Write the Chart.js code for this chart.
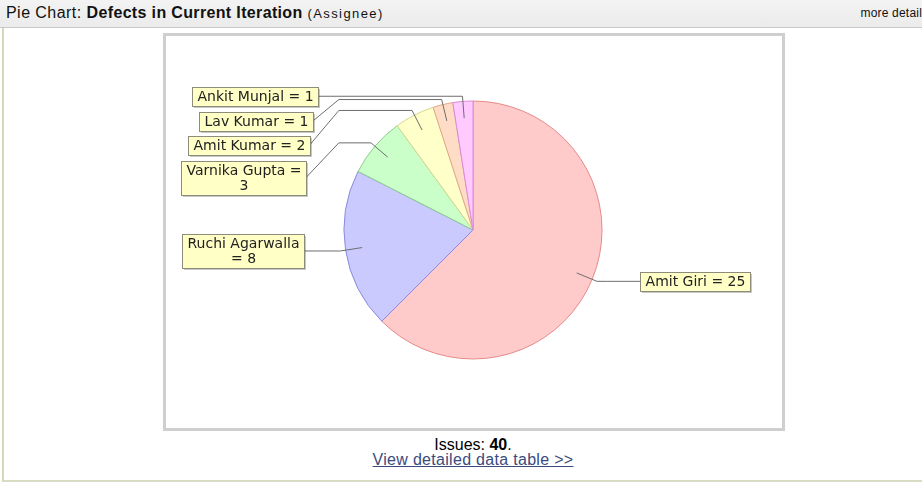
<!DOCTYPE html>
<html>
<head>
<meta charset="utf-8">
<script src="https://cdn.jsdelivr.net/npm/chart.js@4/dist/chart.umd.min.js"></script>
<style>
  body { margin: 0; background: #fff; font-family: "Liberation Sans", Arial, sans-serif; }
  #panel { position: absolute; left: 2px; top: 0; width: 940px; height: 480px;
           border-left: 2px solid #d3d9b9; border-bottom: 2px solid #d8dcc2; }
  #head { position: absolute; left: 0; top: 0; width: 922px; height: 27px; overflow: hidden;
          background: linear-gradient(#f3f3f3, #ebebeb); border-bottom: 1px solid #c9c9c9;
          font-size: 16px; color: #111; }
  #head .title { position: absolute; left: 6px; top: 4px; white-space: nowrap; letter-spacing: 0.45px; }
  #head .title b { letter-spacing: 0.35px; }
  #head .title small { font-size: 13px; letter-spacing: 1.4px; }
  #head .more { position: absolute; right: 0; top: 6px; font-size: 12px; letter-spacing: 0.2px; }
  #frame { position: absolute; left: 163px; top: 33px; width: 616px; height: 392px;
           border: 3px solid #cfcfcf; }
  #issues { position: absolute; left: 0; width: 946px; top: 436px; text-align: center; font-size: 16px; }
  #link { position: absolute; left: 0; width: 946px; top: 451px; text-align: center; font-size: 16px;
          letter-spacing: 0.3px; }
  #link a { color: #3b4a7d; }
</style>
</head>
<body>
<div id="panel"></div>
<div id="head">
  <span class="title">Pie Chart: <b>Defects in Current Iteration</b> <small>(Assignee)</small></span>
  <span class="more">more detail</span>
</div>
<div id="frame"><canvas id="pie" width="616" height="392"></canvas></div>
<div id="issues">Issues: <b>40</b>.</div>
<div id="link"><a href="#">View detailed data table &gt;&gt;</a></div>
<script>
const assignees = ["Amit Giri", "Ruchi Agarwalla", "Varnika Gupta", "Amit Kumar", "Lav Kumar", "Ankit Munjal"];
const defects = [25, 8, 3, 2, 1, 1];
const fills = ["#ffcaca", "#cacaff", "#caffca", "#ffffca", "#ffdcc6", "#ffcaff"];
const outlines = ["#e48a8a", "#8a8ae0", "#8ccc8c", "#d6d68e", "#e0a88a", "#dc8adc"];

const PAD_X = 5, PAD_Y = 1.5, LINE_H = 15.5, WRAP = 118, GAP = 6;

function wrap(ctx, text, max) {
  const words = text.split(" ");
  const lines = [];
  let cur = "";
  words.forEach((w) => {
    const t = cur ? cur + " " + w : w;
    if (cur && ctx.measureText(t).width > max) {
      lines.push(cur);
      cur = w;
    } else {
      cur = t;
    }
  });
  lines.push(cur);
  return lines;
}

// jfreechart style labels: boxes at the sides, link line with an elbow
const pieLabels = {
  id: "pieLabels",
  afterDatasetsDraw(chart) {
    const ctx = chart.ctx;
    const meta = chart.getDatasetMeta(0);
    const values = chart.data.datasets[0].data;
    ctx.save();
    ctx.font = '14px "DejaVu Sans"';
    const recs = meta.data.map((arc, i) => {
      const p = arc.getProps(["x", "y", "startAngle", "endAngle", "outerRadius"], true);
      const a = (p.startAngle + p.endAngle) / 2;
      const c = Math.cos(a), s = Math.sin(a), r = p.outerRadius;
      const lines = wrap(ctx, chart.data.labels[i] + " = " + values[i], WRAP);
      const w = Math.max(...lines.map((l) => ctx.measureText(l).width)) + 2 * PAD_X;
      const h = lines.length * LINE_H + 2 * PAD_Y;
      return {
        cx: p.x, cy: p.y, r, left: c < 0, lines, w, h,
        inner: [p.x + c * r * 0.87, p.y + s * r * 0.87],
        elbow: [p.x + c * r * 1.04, p.y + s * r * 1.04],
      };
    });

    [true, false].forEach((side) => {
      const list = recs.filter((d) => d.left === side).sort((a, b) => a.elbow[1] - b.elbow[1]);
      let bottom = -Infinity;
      list.forEach((d) => {
        d.y = Math.max(d.elbow[1], bottom + GAP + d.h / 2);
        bottom = d.y + d.h / 2;
      });
    });

    recs.forEach((d) => {
      const sign = d.left ? -1 : 1;
      const anchorX = d.cx + sign * d.r * 1.04;
      const dy = (d.y - d.cy) / (d.r * 2.6);
      const edgeX = d.cx + sign * d.r * 1.31 * Math.sqrt(Math.max(0, 1 - dy * dy));

      ctx.strokeStyle = "#6e6e6e";
      ctx.lineWidth = 1;
      ctx.beginPath();
      ctx.moveTo(d.inner[0], d.inner[1]);
      ctx.lineTo(d.elbow[0], d.elbow[1]);
      ctx.lineTo(anchorX, d.elbow[1]);
      ctx.lineTo(edgeX, d.y);
      ctx.stroke();

      const bx = Math.round(d.left ? edgeX - d.w : edgeX) + 0.5;
      const by = Math.round(d.y - d.h / 2) + 0.5;
      const bw = Math.round(d.w), bh = Math.round(d.h);
      ctx.fillStyle = "rgba(0,0,0,0.22)";
      ctx.fillRect(bx + 1.5, by + 1.5, bw, bh);
      ctx.fillStyle = "#ffffc6";
      ctx.fillRect(bx, by, bw, bh);
      ctx.strokeStyle = "#8c8c7a";
      ctx.strokeRect(bx, by, bw, bh);

      ctx.fillStyle = "#222";
      ctx.textAlign = "center";
      ctx.textBaseline = "middle";
      d.lines.forEach((l, k) => {
        ctx.fillText(l, bx + bw / 2, by + PAD_Y + LINE_H * (k + 0.5) + 0.5);
      });
    });
    ctx.restore();
  },
};

new Chart(document.getElementById("pie"), {
  type: "pie",
  data: {
    labels: assignees,
    datasets: [
      {
        data: defects,
        backgroundColor: fills,
        borderColor: outlines,
        borderWidth: 1,
        hoverOffset: 0,
      },
    ],
  },
  options: {
    responsive: false,
    animation: false,
    radius: 129,
    layout: { padding: { left: 100, right: 102, top: 20, bottom: 24 } },
    plugins: {
      legend: { display: false },
      tooltip: { enabled: false },
    },
  },
  plugins: [pieLabels],
});
</script>
</body>
</html>
